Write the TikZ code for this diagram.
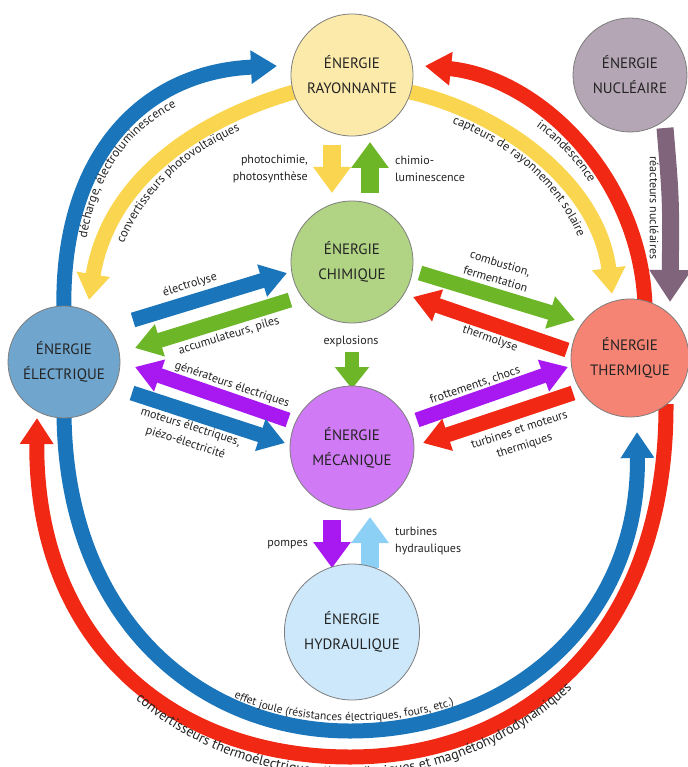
\documentclass[tikz,border=0pt]{standalone}
\usepackage{fontspec}
\setmainfont{PT Sans}
\usetikzlibrary{arrows.meta,shapes.geometric,decorations.text,backgrounds}
\definecolor{cBlue}{RGB}{26,117,187}
\definecolor{cRed}{RGB}{240,40,20}
\definecolor{cYellow}{RGB}{250,214,80}
\definecolor{cGreen}{RGB}{108,182,40}
\definecolor{cViolet}{RGB}{168,24,240}
\definecolor{cLBlue}{RGB}{140,208,245}
\definecolor{cMauve}{RGB}{128,100,124}
\definecolor{fRay}{RGB}{252,234,170}
\definecolor{fNuc}{RGB}{180,166,180}
\definecolor{fChi}{RGB}{176,212,132}
\definecolor{fEle}{RGB}{112,166,206}
\definecolor{fThe}{RGB}{246,132,116}
\definecolor{fMec}{RGB}{208,122,246}
\definecolor{fHyd}{RGB}{204,232,250}
\definecolor{cEdge}{RGB}{125,125,125}
\definecolor{cText}{RGB}{35,35,35}
\newcommand{\arcfont}{\fontsize{12.5}{14}\selectfont}
\newcommand{\smallarcfont}{\fontsize{11.5}{12}\selectfont}
\newcommand{\bigarcfont}{\fontsize{14}{15}\selectfont}
\begin{document}
\begin{tikzpicture}[x=1pt,y=-1pt,
  bubble/.style={circle, draw=cEdge, line width=0.8pt, inner sep=0pt, align=center,
    font=\fontsize{15}{25}\selectfont, text=cText},
  lbl/.style={font=\fontsize{12}{16.5}\selectfont, text=cText, inner sep=1pt, align=center},
  fat/.style={line width=15pt, -{Triangle[width=32pt,length=26pt]}},
  fatv/.style={line width=18pt, -{Triangle[width=36pt,length=26pt]}},
  arctext/.style={decorate, decoration={text along path, text color=cText}}
]
\useasboundingbox (0,0) rectangle (687,767);

% ---------- energy bubbles ----------
\node[bubble, fill=fRay, minimum size=122pt] (ray) at (352,75) {ÉNERGIE\\RAYONNANTE};
\node[bubble, fill=fNuc, minimum size=114pt] (nuc) at (630,75) {ÉNERGIE\\NUCLÉAIRE};
\node[bubble, fill=fChi, minimum size=122pt] (chi) at (352,262) {ÉNERGIE\\CHIMIQUE};
\node[bubble, fill=fEle, minimum size=112pt] (ele) at (64,362) {ÉNERGIE\\ÉLECTRIQUE};
\node[bubble, fill=fThe, minimum size=118pt] (the) at (630,358) {ÉNERGIE\\THERMIQUE};
\node[bubble, fill=fMec, minimum size=124pt] (mec) at (352,448) {ÉNERGIE\\MÉCANIQUE};
\node[ellipse, draw=cEdge, line width=0.8pt, fill=fHyd, inner sep=0pt, align=center,
  font=\fontsize{15}{25}\selectfont, text=cText,
  minimum width=124pt, minimum height=136pt] (hyd) at (352,632) {ÉNERGIE\\HYDRAULIQUE};

% ---------- connector end points ----------
\coordinate (bT0) at (64,312);  \coordinate (bT1) at (277,66);
\coordinate (yL0) at (294,92);  \coordinate (yL1) at (89,300);
\coordinate (rT0) at (645,306); \coordinate (rT1) at (425,66);
\coordinate (yR0) at (410,92);  \coordinate (yR1) at (612,294);
\coordinate (m0) at (665,128);  \coordinate (m1) at (670,302);
\coordinate (bB0) at (64,412);  \coordinate (bBm) at (350,731); \coordinate (bB1) at (637,432);
\coordinate (rB0) at (666,404); \coordinate (rBm) at (350,757); \coordinate (rB1) at (37,418);

\coordinate (e1a) at (133,320); \coordinate (e1b) at (287,273);
\coordinate (e2a) at (290,300); \coordinate (e2b) at (135,348);
\coordinate (e3a) at (288,420); \coordinate (e3b) at (135,367);
\coordinate (e4a) at (132,393); \coordinate (e4b) at (285,443);
\coordinate (e5a) at (420,273); \coordinate (e5b) at (575,320);
\coordinate (e6a) at (567,350); \coordinate (e6b) at (413,297);
\coordinate (e7a) at (417,420); \coordinate (e7b) at (568,367);
\coordinate (e8a) at (573,393); \coordinate (e8b) at (423,443);

\coordinate (v1a) at (332,145); \coordinate (v1b) at (332,193);
\coordinate (v2a) at (370,193); \coordinate (v2b) at (370,142);
\coordinate (v3a) at (352,352); \coordinate (v3b) at (352,389);
\coordinate (v4a) at (332,520); \coordinate (v4b) at (332,568);
\coordinate (v5a) at (370,568); \coordinate (v5b) at (370,517);

% baselines of the curved labels
\coordinate (tB0) at (82,312);  \coordinate (tB1) at (279,84);
\coordinate (tL0) at (107,303); \coordinate (tL1) at (299,110);
\coordinate (tR0) at (423,85);  \coordinate (tR1) at (626,307);
\coordinate (tY0) at (406,110); \coordinate (tY1) at (593,295);
\coordinate (tJ0) at (74,412);  \coordinate (tJm) at (350,721); \coordinate (tJ1) at (627,432);
\coordinate (tC0) at (17,418);  \coordinate (tCm) at (350,777); \coordinate (tC1) at (686,404);

% ---------- connectors ----------
\begin{scope}[on background layer]
  % outer arcs
  \draw[fat, cBlue] (bT0) .. controls (60,160) and (140,72) .. (bT1);
  \draw[fat, cYellow] (yL0) .. controls (210,116) and (110,172) .. (yL1);
  \draw[fat, cRed] (rT0) .. controls (641,178) and (540,78) .. (rT1);
  \draw[fat, cYellow] (yR0) .. controls (500,112) and (598,182) .. (yR1);
  \draw[cMauve, line width=17pt, -{Triangle[width=40pt,length=32pt]}]
     (m0) .. controls (671,200) .. (m1);
  \draw[fat, cBlue] (bB0) .. controls (65,620) and (200,731) .. (bBm)
     .. controls (510,731) and (640,620) .. (bB1);
  \draw[fat, cRed] (rB0) .. controls (667,640) and (520,757) .. (rBm)
     .. controls (170,757) and (35,640) .. (rB1);
  % straight arrows
  \draw[fat, cBlue] (e1a) -- (e1b);
  \draw[fat, cGreen] (e2a) -- (e2b);
  \draw[fat, cViolet] (e3a) -- (e3b);
  \draw[fat, cBlue] (e4a) -- (e4b);
  \draw[fat, cGreen] (e5a) -- (e5b);
  \draw[fat, cRed] (e6a) -- (e6b);
  \draw[fat, cViolet] (e7a) -- (e7b);
  \draw[fat, cRed] (e8a) -- (e8b);
  % vertical arrows
  \draw[fatv, cYellow] (v1a) -- (v1b);
  \draw[fatv, cGreen] (v2a) -- (v2b);
  \draw[line width=14pt, -{Triangle[width=33pt,length=22pt]}, cGreen] (v3a) -- (v3b);
  \draw[fatv, cViolet] (v4a) -- (v4b);
  \draw[fatv, cLBlue] (v5a) -- (v5b);
\end{scope}

% ---------- curved labels ----------
\path[arctext, decoration={text={|\arcfont|décharge, électroluminescence},
   text align={left indent=74pt}}]
   (tB0) .. controls (78,162) and (143,90) .. (tB1);
\path[arctext, decoration={text={|\arcfont|convertisseurs photovoltaïques},
   text align={left indent=62pt}}]
   (tL0) .. controls (128,175) and (215,134) .. (tL1);
\path[arctext, decoration={text={|\arcfont|incandescence},
   text align={left indent=122pt}}]
   (tR0) .. controls (538,97) and (622,180) .. (tR1);
\path[arctext, decoration={text={|\arcfont|capteurs de rayonnement solaire},
   text align={left indent=48pt}}]
   (tY0) .. controls (496,130) and (580,184) .. (tY1);
\path[arctext, decoration={text={|\smallarcfont|effet joule (résistances électriques, fours, etc.)},
   text align=center}]
   (tJ0) .. controls (75,620) and (200,721) .. (tJm)
     .. controls (510,721) and (630,620) .. (tJ1);
\path[arctext, decoration={text={|\bigarcfont|convertisseurs thermoélectriques, thermoïoniques et magnétohydrodynamiques},
   text align=center}]
   (tC0) .. controls (15,640) and (170,777) .. (tCm)
     .. controls (520,777) and (687,640) .. (tC1);

% ---------- straight labels ----------
\node[lbl, rotate=17] (lElectrolyse) at (190,285) {électrolyse};
\node[lbl, rotate=17] (lAccu) at (229,336) {accumulateurs, piles};
\node[lbl, rotate=-19] (lGen) at (232,385) {générateurs électriques};
\node[lbl, rotate=-18] (lMot) at (188,435) {moteurs électriques,\\piézo-électricité};
\node[lbl, rotate=-17] (lComb) at (498,271) {combustion,\\fermentation};
\node[lbl, rotate=-19] (lTherm) at (490,339) {thermolyse};
\node[lbl, rotate=19] (lFrot) at (475,385) {frottements, chocs};
\node[lbl, rotate=18] (lTurb) at (522,438) {turbines et moteurs\\thermiques};
\node[lbl] (lExpl) at (351,341) {explosions};
\node[lbl, align=right, anchor=east] (lPhoto) at (309,169) {photochimie,\\photosynthèse};
\node[lbl, align=left, anchor=west] (lChimio) at (394,169) {chimio-\\luminescence};
\node[lbl, anchor=east] (lPompes) at (309,545) {pompes};
\node[lbl, align=left, anchor=west] (lTurbH) at (394,541) {turbines\\hydrauliques};
\node[lbl, rotate=-90] (lReact) at (654,208) {réacteurs nucléaires};
\end{tikzpicture}
\end{document}
